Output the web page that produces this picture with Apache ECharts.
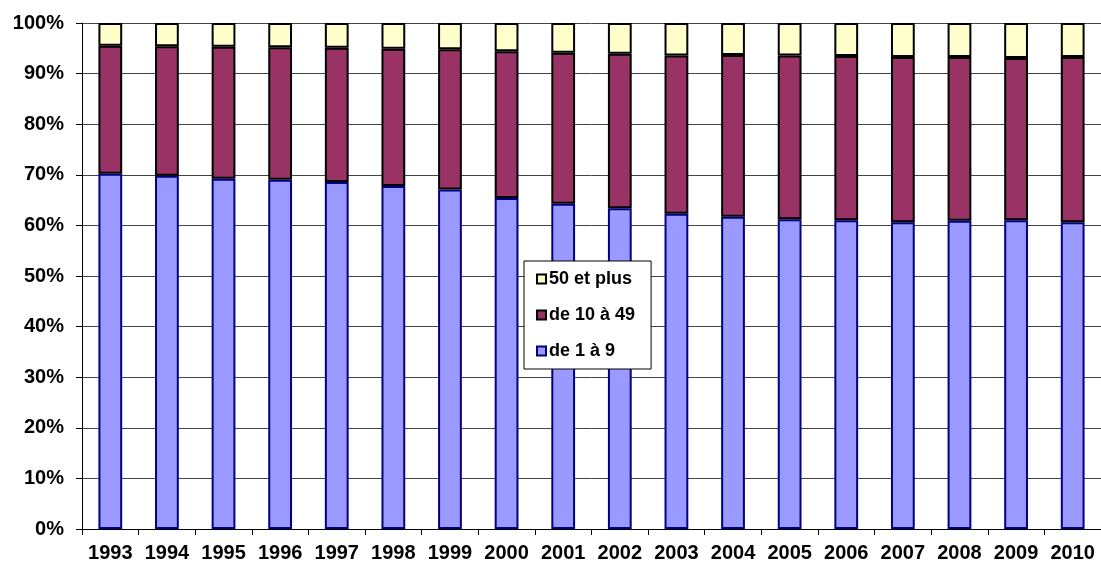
<!DOCTYPE html>
<html>
<head>
<meta charset="utf-8">
<script src="https://cdn.jsdelivr.net/npm/echarts@6/dist/echarts.min.js"></script>
<style>
  html, body { margin: 0; padding: 0; background: #fff; }
  #chart { width: 1101px; height: 563px; }
</style>
</head>
<body>
<div id="chart"></div>
<script>
// années
const years = ["1993", "1994", "1995", "1996", "1997", "1998", "1999", "2000", "2001",
  "2002", "2003", "2004", "2005", "2006", "2007", "2008", "2009", "2010"];
// de 1 à 9 (%)
const small = [70.2, 69.8, 69.2, 69.0, 68.6, 67.8, 67.1, 65.4, 64.3,
  63.4, 62.3, 61.7, 61.2, 61.0, 60.6, 60.9, 61.0, 60.6];
// de 10 à 49 (%)
const medium = [25.3, 25.6, 26.1, 26.2, 26.5, 27.1, 27.7, 29.0, 29.8,
  30.5, 31.3, 32.0, 32.4, 32.5, 32.7, 32.4, 32.1, 32.7];
// 50 et plus (%)
const large = [4.5, 4.6, 4.7, 4.8, 4.9, 5.1, 5.2, 5.6, 5.9,
  6.1, 6.4, 6.3, 6.4, 6.5, 6.7, 6.7, 6.9, 6.7];

const chart = echarts.init(document.getElementById("chart"));
const font = "Liberation Sans, Arial, sans-serif";

const option = {
  animation: false,
  grid: {
    left: 82,
    top: 23,
    width: 1022,
    bottom: 34,
    containLabel: false,
  },
  legend: {
    orient: "vertical",
    left: 524,
    top: 261,
    data: ["50 et plus", "de 10 à 49", "de 1 à 9"],
    icon: "rect",
    itemWidth: 9,
    itemHeight: 9,
    itemGap: 18,
    padding: [9, 16, 9, 12],
    backgroundColor: "#fff",
    borderColor: "#000",
    borderWidth: 1,
    borderRadius: 0,
    textStyle: {
      fontFamily: font,
      fontWeight: "bold",
      fontSize: 18,
      color: "#000",
      padding: [0, 0, 0, -2],
    },
  },
  xAxis: {
    type: "category",
    data: years,
    axisLine: { lineStyle: { color: "#000", width: 1 } },
    axisTick: { show: true, length: 6, lineStyle: { color: "#000" } },
    axisLabel: {
      interval: 0,
      hideOverlap: false,
      fontFamily: font,
      fontWeight: "bold",
      fontSize: 20,
      color: "#000",
      margin: 14,
    },
  },
  yAxis: {
    type: "value",
    min: 0,
    max: 100,
    interval: 10,
    axisLine: { show: true, lineStyle: { color: "#000", width: 1 } },
    axisTick: { show: true, length: 6, lineStyle: { color: "#000" } },
    axisLabel: {
      formatter: "{value}%",
      fontFamily: font,
      fontWeight: "bold",
      fontSize: 20,
      color: "#000",
      margin: 18,
    },
    splitLine: { show: true, lineStyle: { color: "#444", width: 1 } },
  },
  series: [
    {
      name: "de 1 à 9",
      type: "bar",
      stack: "total",
      data: small,
      barWidth: "42%",
      itemStyle: { color: "#9999FF", borderColor: "#000080", borderWidth: 2 },
    },
    {
      name: "de 10 à 49",
      type: "bar",
      stack: "total",
      data: medium,
      itemStyle: { color: "#993366", borderColor: "#000", borderWidth: 2 },
    },
    {
      name: "50 et plus",
      type: "bar",
      stack: "total",
      data: large,
      itemStyle: { color: "#FFFFCC", borderColor: "#000", borderWidth: 2 },
    },
  ],
};

chart.setOption(option);
</script>
</body>
</html>
